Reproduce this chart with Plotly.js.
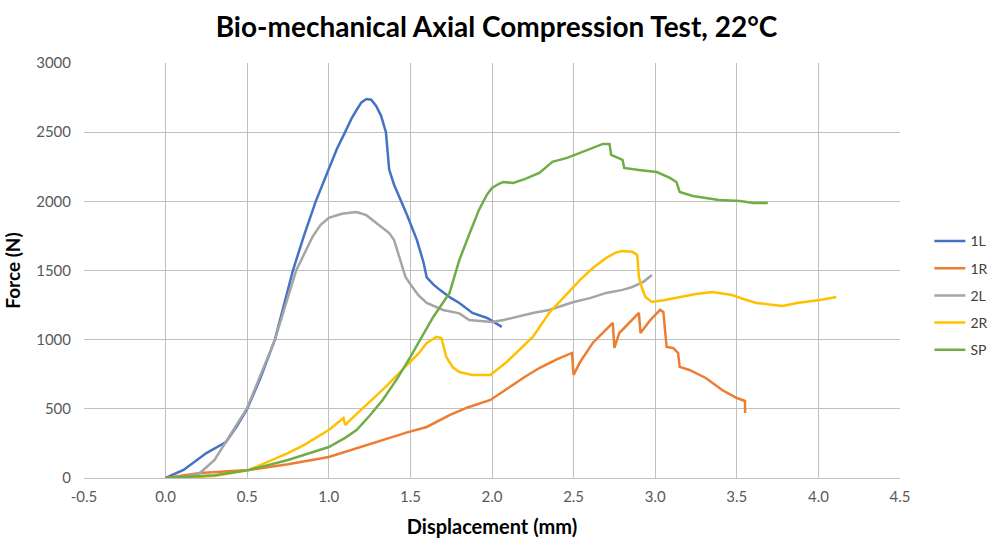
<!DOCTYPE html>
<html>
<head>
<meta charset="utf-8">
<script src="https://cdn.plot.ly/plotly-3.0.1.min.js"></script>
<style>html,body{margin:0;padding:0;background:#fff;}#chart{width:993px;height:538px;}</style>
</head>
<body>
<div id="chart"></div>
<script>
// 1L
const x1L = [0,0.11,0.25,0.37,0.44,0.5,0.58,0.67,0.78,0.85,0.92,1.0,1.05,1.10,1.14,1.17,1.20,1.23,1.26,1.29,1.32,1.35,1.37,1.40,1.44,1.48,1.54,1.58,1.60,1.64,1.68,1.75,1.80,1.88,1.97,2.06];
const y1L = [0,58,180,260,380,500,720,1000,1500,1760,2000,2240,2380,2500,2600,2660,2715,2740,2735,2690,2620,2500,2230,2120,2010,1900,1720,1560,1450,1400,1360,1300,1265,1193,1157,1092];
// 1R
const x1R = [0,0.21,0.51,0.75,1.0,1.17,1.33,1.48,1.60,1.74,1.85,1.99,2.10,2.20,2.29,2.40,2.49,2.50,2.54,2.62,2.74,2.75,2.78,2.85,2.90,2.91,2.97,3.03,3.05,3.06,3.07,3.11,3.14,3.15,3.21,3.31,3.41,3.50,3.55,3.551];
const y1R = [0,36,58,100,152,215,275,330,369,455,510,564,650,730,795,860,904,745,839,980,1121,940,1048,1130,1193,1048,1142,1215,1200,1070,947,940,904,803,781,723,636,578,557,470];
// 2L
const x2L = [0.1,0.21,0.3,0.35,0.42,0.5,0.58,0.67,0.8,0.9,0.95,1.0,1.08,1.17,1.23,1.29,1.34,1.37,1.40,1.42,1.45,1.47,1.50,1.55,1.60,1.70,1.80,1.86,1.93,2.0,2.07,2.15,2.25,2.35,2.50,2.60,2.70,2.80,2.86,2.93,2.98];
const y2L = [0,36,130,224,350,506,740,1000,1500,1743,1830,1880,1910,1923,1900,1843,1800,1771,1720,1648,1530,1453,1400,1320,1265,1215,1190,1142,1135,1128,1142,1165,1193,1215,1272,1300,1338,1360,1381,1420,1468];
// 2R
const x2R = [0.1,0.3,0.51,0.75,0.85,1.0,1.09,1.10,1.15,1.23,1.35,1.45,1.55,1.60,1.66,1.69,1.72,1.76,1.80,1.88,1.99,2.09,2.18,2.25,2.35,2.45,2.54,2.62,2.70,2.76,2.80,2.86,2.89,2.90,2.92,2.94,2.98,3.05,3.15,3.25,3.35,3.47,3.55,3.62,3.70,3.78,3.87,4.01,4.11];
const y2R = [0,15,58,180,240,347,434,383,440,528,660,781,900,976,1020,1012,875,800,766,745,745,839,940,1020,1193,1320,1432,1520,1591,1630,1641,1635,1612,1453,1370,1309,1272,1285,1309,1330,1345,1323,1290,1265,1255,1244,1265,1287,1309];
// SP
const xSP = [0,0.3,0.51,0.75,1.0,1.10,1.17,1.25,1.33,1.42,1.50,1.58,1.64,1.74,1.80,1.86,1.92,1.97,2.0,2.04,2.07,2.13,2.20,2.29,2.37,2.46,2.58,2.68,2.72,2.73,2.80,2.81,2.90,3.01,3.09,3.13,3.15,3.23,3.39,3.52,3.60,3.69];
const ySP = [0,20,58,130,224,290,347,450,564,720,875,1040,1164,1338,1576,1760,1938,2050,2097,2125,2140,2133,2160,2205,2285,2314,2372,2415,2415,2335,2300,2241,2227,2212,2169,2140,2068,2039,2010,2003,1988,1988];

const xTickVals = [-0.5,0,0.5,1,1.5,2,2.5,3,3.5,4,4.5];
const xTickText = ['-0.5','0.0','0.5','1.0','1.5','2.0','2.5','3.0','3.5','4.0','4.5'];

const names = ['1L','1R','2L','2R','SP'];
const colors = ['#4472C4','#ED7D31','#A5A5A5','#FFC000','#70AD47'];
const xs = [x1L,x1R,x2L,x2R,xSP];
const ys = [y1L,y1R,y2L,y2R,ySP];

const font = 'Lato, "Open Sans", sans-serif';
const traces = names.map((n,i)=>({
  x: xs[i], y: ys[i], name: n, type: 'scatter', mode: 'lines',
  legendgroup: n,
  line: {color: colors[i], width: 2.5}
}));

const layout = {
  width: 993, height: 538,
  margin: {l:84, r:93, t:63, b:60, autoexpand: false},
  paper_bgcolor: '#fff', plot_bgcolor: '#fff',
  title: {text: '<b>Bio-mechanical Axial Compression Test, 22°C</b>', x: 0.5, xanchor: 'center', y: 0.95, yanchor: 'middle',
    font: {family: font, size: 28, color: '#000'}},
  xaxis: {range: [-0.5, 4.5], tickvals: xTickVals, ticktext: xTickText, automargin: false,
    showgrid: true, gridcolor: '#c0c0c0', gridwidth: 1, zeroline: false,
    showline: false, ticks: '', ticklabelstandoff: 8, tickfont: {family: font, size: 15, color: '#595959'},
    title: {text: '<b>Displacement (mm)</b>', font: {family: font, size: 20, color: '#000'}, standoff: 16}},
  yaxis: {range: [0, 3000], dtick: 500, automargin: false,
    showgrid: true, gridcolor: '#c0c0c0', gridwidth: 1, zeroline: true, zerolinecolor: '#c0c0c0', zerolinewidth: 1,
    ticks: '', ticklabelstandoff: 12, tickfont: {family: font, size: 15, color: '#595959'},
    title: {text: '<b>Force (N)</b>', font: {family: font, size: 19, color: '#000'}, standoff: 10}},
  legend: {x: 1.036, xanchor: 'left', y: 0.44, yanchor: 'middle', traceorder: 'grouped', tracegroupgap: 6,
    itemwidth: 31,
    font: {family: font, size: 14, color: '#404040'}, bgcolor: 'rgba(0,0,0,0)'},
  showlegend: true
};
Plotly.newPlot('chart', traces, layout, {staticPlot: true, displayModeBar: false});
</script>
</body>
</html>
